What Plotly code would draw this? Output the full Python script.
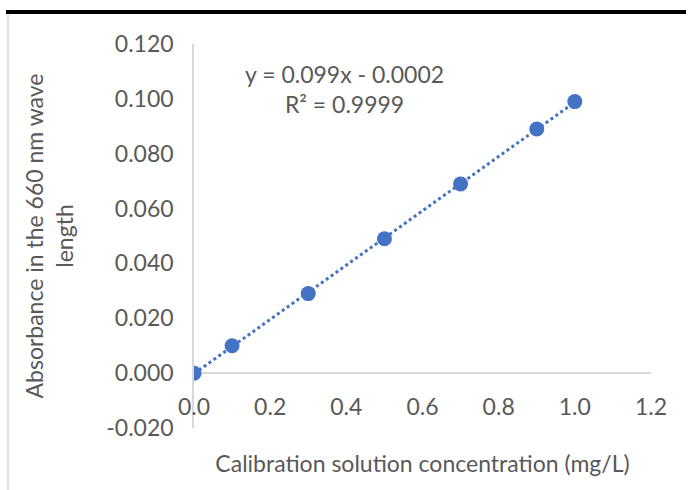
import numpy as np
import plotly.graph_objects as go

conc = [0.0, 0.1, 0.3, 0.5, 0.7, 0.9, 1.0]
absorb = [0.000, 0.010, 0.029, 0.049, 0.069, 0.089, 0.099]
y_tickvals = [-0.02, 0.0, 0.02, 0.04, 0.06, 0.08, 0.10, 0.12]
y_ticktext = ["-0.020", "0.000", "0.020", "0.040", "0.060", "0.080", "0.100", "0.120"]
x_title = "Calibration solution concentration (mg/L)"
y_title = "Absorbance in the 660 nm wave<br>length"
eq_text = "y = 0.099x - 0.0002<br>R² = 0.9999"

blue = "#4472C4"
gray_txt = "#595959"
axis_gray = "#D9D9D9"
FONT = "Lato"
FS = 23

slope, intercept = np.polyfit(conc, absorb, 1)
xt = np.array([min(conc), max(conc)])
yt = slope * xt + intercept

fig = go.Figure()
fig.add_trace(go.Scatter(x=xt, y=yt, mode="lines",
                         line=dict(color=blue, width=3, dash="dot"),
                         hoverinfo="skip", showlegend=False))
fig.add_trace(go.Scatter(x=conc, y=absorb, mode="markers",
                         marker=dict(color=blue, size=15),
                         showlegend=False))

W, H = 688, 490
ml, mr, mt, mb = 194, 37, 44, 62
pos = 1 - (0.12 - 0.0) / 0.14

fig.update_layout(
    width=W, height=H,
    margin=dict(l=ml, r=mr, t=mt, b=mb, autoexpand=False),
    paper_bgcolor="white", plot_bgcolor="white",
    font=dict(family=FONT, color=gray_txt, size=FS),
    xaxis=dict(range=[0, 1.2], dtick=0.2, tick0=0, tickformat=".1f",
               showgrid=False, zeroline=False, showline=False,
               anchor="free", position=pos, ticks="",
               ticklabelstandoff=18,
               title=dict(text=x_title, standoff=36, font=dict(size=FS)),
               automargin=False),
    yaxis=dict(range=[-0.02, 0.12], tickvals=y_tickvals, ticktext=y_ticktext,
               showgrid=False, zeroline=True, zerolinecolor=axis_gray, zerolinewidth=1.5,
               showline=True, linecolor=axis_gray, linewidth=1.5, ticks="",
               ticklabelstandoff=14,
               title=dict(text=y_title, standoff=26, font=dict(size=FS)),
               automargin=False),
    annotations=[dict(text=eq_text, x=0.395, y=0.1035, xref="x", yref="y",
                      showarrow=False, align="center",
                      font=dict(family=FONT, size=FS, color=gray_txt))],
    shapes=[
        dict(type="line", xref="paper", yref="paper",
             xsizemode="pixel", ysizemode="pixel", xanchor=0, yanchor=1,
             x0=6 - ml, x1=W - ml - 2, y0=mt - 12, y1=mt - 12,
             line=dict(color="black", width=4)),
        dict(type="line", xref="paper", yref="paper",
             xsizemode="pixel", ysizemode="pixel", xanchor=0, yanchor=1,
             x0=8 - ml, x1=8 - ml, y0=mt - 14, y1=-(H - mt),
             line=dict(color="#D9D9D9", width=1.5)),
    ],
)

fig.write_html("out.html")
